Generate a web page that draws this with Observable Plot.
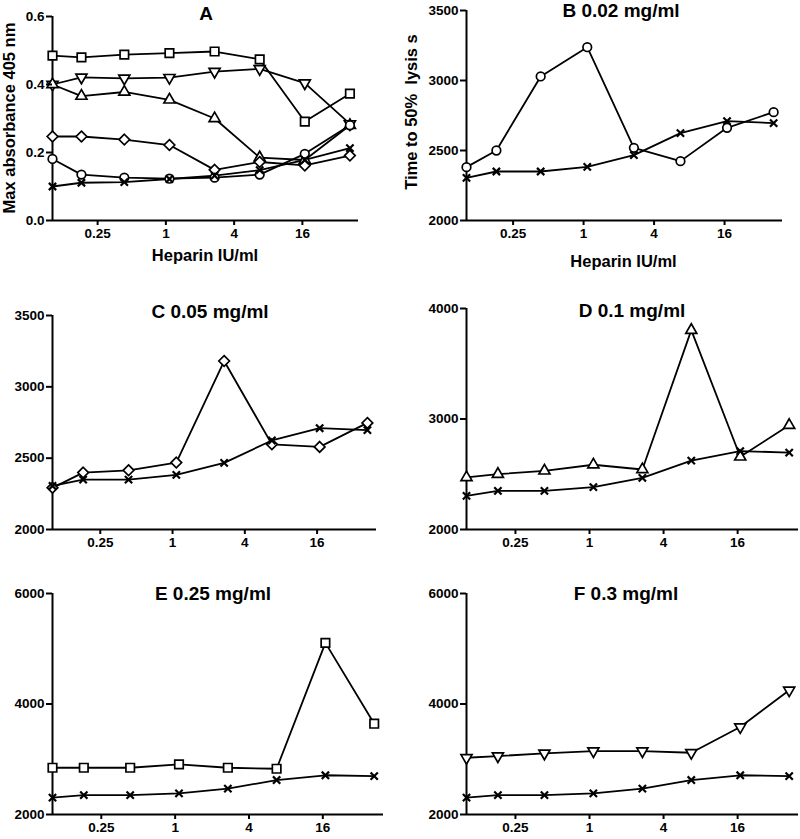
<!DOCTYPE html>
<html><head><meta charset="utf-8">
<script src="https://cdn.jsdelivr.net/npm/d3@7"></script>
<script src="https://cdn.jsdelivr.net/npm/@observablehq/plot@0.6"></script>
<style>
body{margin:0;background:#fff;}
#fig{position:relative;width:800px;height:839px;overflow:hidden;font-family:"Liberation Sans",Arial,sans-serif;font-weight:bold;color:#000;}
#fig svg{position:absolute;}
#fig svg text{font-size:13.5px;font-weight:bold;}
.lbl{position:absolute;white-space:pre;line-height:1;transform:translate(-50%,-50%);}
.rot{transform:translate(-50%,-50%) rotate(-90deg);}
</style></head><body><div id="fig"></div>
<script>
// Heparin concentrations (IU/ml), x positions of the 8 points
const heparin = [0.1, 0.18, 0.43, 1.075, 2.69, 6.72, 16.8, 42];
const xTicks = [0.25, 1, 4, 16];
const xDomain = [0.1, 50];

// Panel A: max absorbance 405 nm
const absControl = [0.100, 0.111, 0.113, 0.122, 0.132, 0.148, 0.178, 0.213];
const abs002 = [0.181, 0.135, 0.126, 0.123, 0.126, 0.135, 0.196, 0.280];
const abs005 = [0.247, 0.247, 0.238, 0.222, 0.149, 0.172, 0.162, 0.191];
const abs01 = [0.400, 0.366, 0.378, 0.355, 0.300, 0.185, 0.178, 0.280];
const abs025 = [0.485, 0.480, 0.488, 0.492, 0.497, 0.474, 0.291, 0.373];
const abs03 = [0.400, 0.421, 0.418, 0.420, 0.438, 0.446, 0.404, 0.284];

// Panels B-F: time to 50% lysis (s)
const lysisControl = [2305, 2350, 2350, 2383, 2467, 2624, 2710, 2696];
const lysis002 = [2381, 2500, 3029, 3238, 2519, 2424, 2662, 2774];
const lysis005 = [2292, 2399, 2415, 2469, 3181, 2597, 2579, 2747];
const lysis01 = [2471, 2501, 2531, 2586, 2543, 3804, 2658, 2944];
const lysis025 = [2846, 2846, 2846, 2906, 2846, 2828, 5106, 3643];
const lysis03 = [3027, 3057, 3106, 3148, 3148, 3118, 3583, 4248];

const titles = ["A", "B 0.02 mg/ml", "C 0.05 mg/ml", "D 0.1 mg/ml", "E 0.25 mg/ml", "F 0.3 mg/ml"];
const xLabel = "Heparin IU/ml";
const yLabelA = "Max absorbance 405 nm";
const yLabelB = "Time to 50%  lysis s";

const sym = {
  control: {symbol: "times", r: 3.4},
  c002: {symbol: "circle", r: 4.3},
  c005: {symbol: "diamond2", r: 4.8},
  c01: {symbol: "triangle", r: 4.1},
  c025: {symbol: "square", r: 4.8},
  c03: {symbol: "triangle", r: 4.1, rotate: 180}
};

const panels = [
  {left: 0, top: 0, width: 400, height: 250, ml: 52, mr: 42, mt: 16, mb: 30,
   yDomain: [0, 0.6], yTicks: [0, 0.2, 0.4, 0.6], yFormat: d3.format(".1f"),
   series: [[abs025, sym.c025], [abs03, sym.c03], [abs01, sym.c01], [abs005, sym.c005], [abs002, sym.c002], [absControl, sym.control]]},
  {left: 400, top: 0, width: 400, height: 250, ml: 66, mr: 18, mt: 10, mb: 30,
   yDomain: [2000, 3500], yTicks: [2000, 2500, 3000, 3500], yFormat: d => String(d),
   series: [[lysis002, sym.c002], [lysisControl, sym.control]]},
  {left: 0, top: 280, width: 400, height: 280, ml: 52, mr: 24, mt: 35, mb: 31,
   yDomain: [2000, 3500], yTicks: [2000, 2500, 3000, 3500], yFormat: d => String(d),
   series: [[lysis005, sym.c005], [lysisControl, sym.control]]},
  {left: 400, top: 280, width: 400, height: 280, ml: 66, mr: 2, mt: 28, mb: 31,
   yDomain: [2000, 4000], yTicks: [2000, 3000, 4000], yFormat: d => String(d),
   series: [[lysis01, sym.c01], [lysisControl, sym.control]]},
  {left: 0, top: 560, width: 400, height: 279, ml: 52, mr: 17, mt: 33, mb: 25,
   yDomain: [2000, 6000], yTicks: [2000, 4000, 6000], yFormat: d => String(d),
   series: [[lysis025, sym.c025], [lysisControl, sym.control]]},
  {left: 400, top: 560, width: 400, height: 279, ml: 66, mr: 2, mt: 33, mb: 25,
   yDomain: [2000, 6000], yTicks: [2000, 4000, 6000], yFormat: d => String(d),
   series: [[lysis03, sym.c03], [lysisControl, sym.control]]}
];

const fig = document.getElementById("fig");

for (const p of panels) {
  const marks = [
    Plot.ruleY([p.yDomain[0]], {stroke: "black", strokeWidth: 2}),
    Plot.ruleX([xDomain[0]], {stroke: "black", strokeWidth: 2})
  ];
  const sets = p.series.map(([vals, s]) => ({s, data: heparin.map((x, i) => ({x, y: vals[i]}))}));
  for (const {data} of sets) {
    marks.push(Plot.line(data, {x: "x", y: "y", stroke: "black", strokeWidth: 1.8}));
  }
  for (const {s, data} of sets) {
    marks.push(Plot.dot(data, {
      x: "x", y: "y", symbol: s.symbol, r: s.r, rotate: s.rotate || 0,
      fill: s.symbol === "times" ? "none" : "white",
      stroke: "black", strokeWidth: s.symbol === "times" ? 2.2 : 1.7
    }));
  }
  marks.push(Plot.axisX({ticks: xTicks, tickFormat: d => String(d), tickSize: 5, tickPadding: 3, strokeWidth: 2, fontSize: 13.5, fontWeight: "bold", label: null}));
  marks.push(Plot.axisY({ticks: p.yTicks, tickFormat: p.yFormat, tickSize: 6, tickPadding: 2, strokeWidth: 2, fontSize: 13.5, fontWeight: "bold", label: null}));
  const svg = Plot.plot({
    width: p.width, height: p.height,
    marginLeft: p.ml, marginRight: p.mr, marginTop: p.mt, marginBottom: p.mb,
    x: {type: "log", base: 2, domain: xDomain},
    y: {domain: p.yDomain},
    style: {fontFamily: "'Liberation Sans', Arial, sans-serif", fontSize: "13.5px", fontWeight: "bold", color: "black", background: "transparent", overflow: "visible"},
    marks
  });
  svg.style.left = p.left + "px";
  svg.style.top = p.top + "px";
  fig.appendChild(svg);
}

function addLabel(text, x, y, size, rotate) {
  const d = document.createElement("div");
  d.className = "lbl" + (rotate ? " rot" : "");
  d.textContent = text;
  d.style.left = x + "px";
  d.style.top = y + "px";
  d.style.fontSize = size + "px";
  fig.appendChild(d);
}

const titlePos = [[206, 12.5], [621, 9.5], [210, 310.5], [632, 310], [213, 592.7], [626, 592.7]];
titles.forEach((t, i) => addLabel(t, titlePos[i][0], titlePos[i][1], 19, false));
addLabel(xLabel, 205, 254.5, 16.5, false);
addLabel(xLabel, 623.5, 260.5, 16.5, false);
addLabel(yLabelA, 9, 118.3, 16.5, true);
addLabel(yLabelB, 411, 111.7, 16.5, true);
</script>
</body></html>
